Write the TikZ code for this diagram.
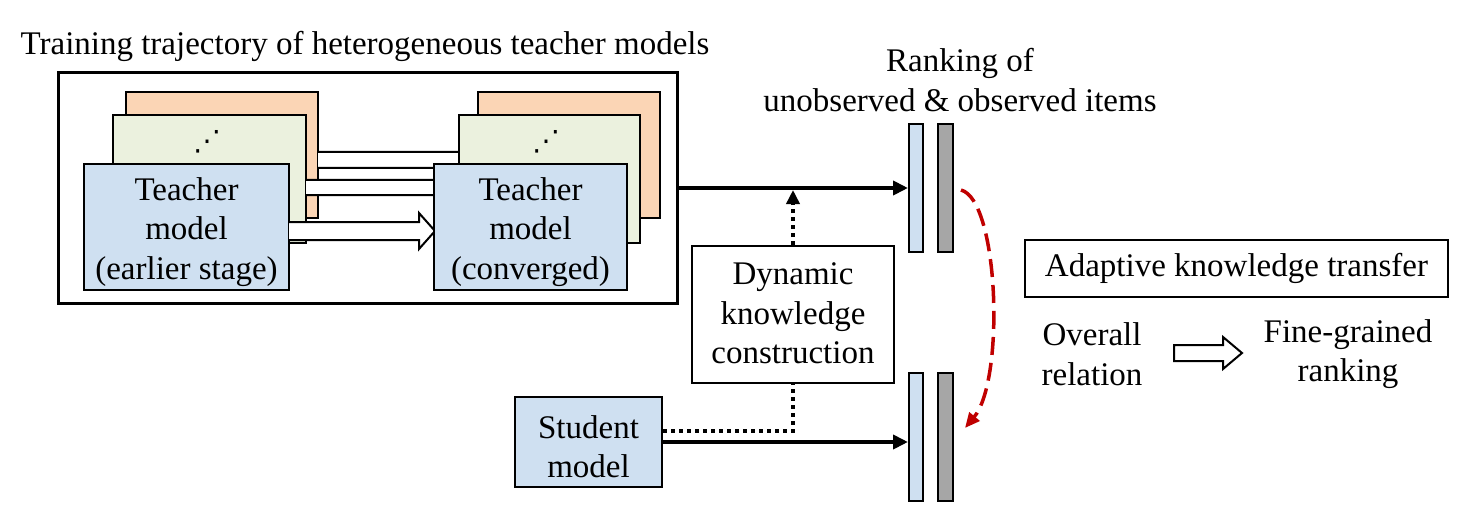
\documentclass[tikz,border=0pt]{standalone}
\usepackage{fontspec}
\setmainfont{Liberation Serif}
\newfontfamily\symfont{DejaVu Sans}
\usetikzlibrary{arrows.meta,calc}
\definecolor{tblue}{RGB}{207,224,241}
\definecolor{torange}{RGB}{251,213,181}
\definecolor{tgreen}{RGB}{235,241,222}
\definecolor{tgray}{RGB}{166,166,166}
\definecolor{tred}{RGB}{192,0,0}
\newcommand\lowtext[2]{\raisebox{-#1}[\height][\depth]{\begin{tabular}{@{}c@{}}#2\end{tabular}}}
\begin{document}
\begin{tikzpicture}[x=1pt,y=-1pt,
  every node/.style={font=\fontsize{33}{39.5}\selectfont, inner sep=0pt, align=center},
  box/.style={draw=black, line width=2pt, rectangle},
  bar/.style={draw=black, line width=2pt, rectangle, minimum width=14pt, minimum height=128pt},
  arr/.style={line width=4pt, -{Triangle[length=15pt,width=14pt]}},
  dotline/.style={line width=4pt, dash pattern=on 4pt off 4pt},
  dotarr/.style={dotline, -{Triangle[length=14pt,width=13pt]}},
  redarr/.style={tred, line width=3.5pt, dash pattern=on 18pt off 8pt, -{Triangle[length=15pt,width=13pt]}},
  fat/.style={draw=black, line width=2pt, fill=white, line join=miter},
  dotsnode/.style={font=\symfont\fontsize{28}{28}\selectfont}
]
\useasboundingbox (0,0) rectangle (1457,508);

\node (title) at (365,46.5) {Training trajectory of heterogeneous teacher models};
\node[box, line width=3pt, minimum width=619pt, minimum height=230pt] (outer) at (367.5,188) {};

% left stack
\node[box, fill=torange, minimum width=192pt, minimum height=126pt] (lo) at (222,155) {};
\node[box, fill=tgreen, minimum width=193pt, minimum height=128pt] (lg) at (209.5,179) {};
\node[dotsnode] (ldots) at (207,141.5) {⋰};
\node[box, fill=tblue, minimum width=205pt, minimum height=126pt] (lb) at (186.5,227) {\lowtext{5pt}{Teacher\\model\\(earlier stage)}};

% block arrows between the stacks
\draw[fat] (318,152) -- (462,152) -- (462,144) -- (478,160) -- (462,176) -- (462,168) -- (318,168);
\draw[fat] (306,180) -- (440,180) -- (440,172) -- (456,187.5) -- (440,203) -- (440,195) -- (306,195);
\draw[fat] (289,222) -- (419,222) -- (419,213) -- (435,231) -- (419,249) -- (419,240) -- (289,240);

% right stack
\node[box, fill=torange, minimum width=182pt, minimum height=126pt] (ro) at (569,155) {};
\node[box, fill=tgreen, minimum width=181pt, minimum height=128pt] (rg) at (549.5,179) {};
\node[dotsnode] (rdots) at (546,141.5) {⋰};
\node[box, fill=tblue, minimum width=193pt, minimum height=126pt] (rb) at (530.5,227) {\lowtext{5pt}{Teacher\\model\\(converged)}};

% ranking bars
\node (rank) at (960,80) {Ranking of\\unobserved \& observed items};
\node[bar, fill=tblue] (ub) at (916,188) {};
\node[bar, fill=tgray, minimum width=15pt] (ug) at (945.5,188) {};
\node[bar, fill=tblue] (lbar) at (916,437) {};
\node[bar, fill=tgray, minimum width=15pt] (lgray) at (945.5,437) {};

% dynamic knowledge and student
\node[box, minimum width=202pt, minimum height=137pt] (dyn) at (793,314.5) {\lowtext{2pt}{Dynamic\\knowledge\\construction}};
\node[box, fill=tblue, minimum width=147pt, minimum height=90pt] (stu) at (588.5,442) {\lowtext{8pt}{Student\\model}};

% connectors
\draw[arr] (outer.east) -- (ub.west);
\draw[arr] (stu.east) -- (stu.east -| lbar.west);
\draw[dotline] ([yshift=11.5pt]stu.east) -| (dyn.south);
\draw[dotarr, shorten >=2pt] (dyn.north) -- (dyn.north |- ub.west);
\draw[redarr] ([xshift=7pt,yshift=-2pt]ug.east) .. controls +(38,10) and +(40,-48) .. ([xshift=11pt,yshift=9pt]lgray.east);

% legend
\node[box, minimum width=423pt, minimum height=57pt] (akt) at (1236.5,268) {Adaptive knowledge transfer};
\node (overall) at (1092,354) {Overall\\relation};
\node (fine) at (1348,354) {Fine-grained\\ranking};
\draw[fat] (1174,345) -- (1223,345) -- (1223,337) -- (1242,353) -- (1223,369) -- (1223,361) -- (1174,361) -- cycle;
\end{tikzpicture}
\end{document}
